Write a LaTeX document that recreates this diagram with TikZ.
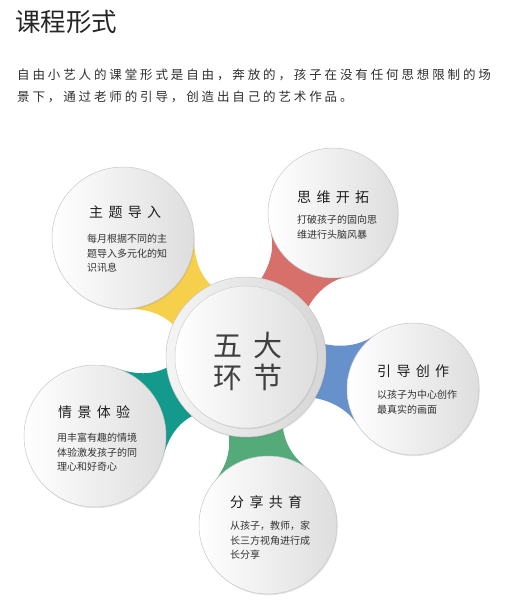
\documentclass[tikz,border=0pt]{standalone}
\usepackage{fontspec}
\setmainfont{Noto Sans CJK SC}
\usetikzlibrary{calc,shadows,backgrounds}
\definecolor{nkyellow}{HTML}{F6D04A}
\definecolor{nkred}{HTML}{D7706A}
\definecolor{nkblue}{HTML}{6791CA}
\definecolor{nkteal}{HTML}{14998D}
\definecolor{nkgreen}{HTML}{55AA7A}
\begin{document}
\begin{tikzpicture}[x=1pt, y=-1pt,
  bubble/.style = {circle, inner sep=0pt, draw=black!22, line width=.5pt, left color=white, right color=black!13, drop shadow={shadow xshift=.8pt, shadow yshift=-1.2pt, opacity=.2}},
  headtext/.style = {anchor=west, inner sep=0pt, text=black!88, font={\fontsize{14}{14}\selectfont\addfontfeature{LetterSpace=38}}},
  bodytext/.style = {anchor=north west, inner sep=0pt, align=left, text=black!80, font={\fontsize{10}{14.5}\selectfont}}]
\useasboundingbox (0,0) rectangle (510,608);
\node[anchor=west, inner sep=0pt, text=black!85, font={\fontsize{25.5}{25.5}\selectfont}] (title) at (15,22) {课程形式};
\node[anchor=north west, inner sep=0pt, align=left, text=black!82, font={\fontsize{12.5}{22}\selectfont\addfontfeature{LetterSpace=23}}] (intro) at (17,69) {自由小艺人的课堂形式是自由，奔放的，孩子在没有任何思想限制的场\\景下，通过老师的引导，创造出自己的艺术作品。};
\node[bubble, minimum size=160pt, left color=black!4, right color=black!16] (c) at (246,357) {};
\node[bubble, minimum size=142pt, draw=black!18] (ci) at (c) {};
\node[bubble, minimum size=142pt] (tl) at (123,238) {};
\node[bubble, minimum size=130pt] (tr) at (333,213) {};
\node[bubble, minimum size=132pt] (rt) at (413,389) {};
\node[bubble, minimum size=142pt] (lb) at (95,436) {};
\node[bubble, minimum size=138pt] (bt) at (268,525) {};
\begin{scope}[on background layer]
\foreach \s/\ang/\rad/\col in {tl/44/71/nkyellow, tr/121.1/65/nkred, rt/190.8/66/nkblue, lb/-27.6/71/nkteal, bt/262.5/69/nkgreen}
  \fill[\col] ($(\s)+(\ang+44:\rad)$)
    .. controls ($(\s)+(\ang+44:\rad)+(\ang-46:20)$) and ($(c)+(\ang+160:80)+(\ang:-16)$) .. ($(c)+(\ang+160:80)$)
    -- ($(c)+(\ang+200:80)$)
    .. controls ($(c)+(\ang+200:80)+(\ang:-16)$) and ($(\s)+(\ang-44:\rad)+(\ang+46:20)$) .. ($(\s)+(\ang-44:\rad)$) -- cycle;
\end{scope}
\node[inner sep=0pt, align=center, text=black!75, font={\fontsize{29}{32}\selectfont\addfontfeature{LetterSpace=35}}] (ctext) at (248,361) {五大\\环节};
\node[headtext] (tlhead) at (89,212) {主题导入};
\node[bodytext] (tlbody) at (87,234) {每月根据不同的主\\题导入多元化的知\\识讯息};
\node[headtext] (trhead) at (297,197) {思维开拓};
\node[bodytext] (trbody) at (297,215) {打破孩子的固向思\\维进行头脑风暴};
\node[headtext] (rthead) at (377,371) {引导创作};
\node[bodytext] (rtbody) at (377,390) {以孩子为中心创作\\最真实的画面};
\node[headtext] (lbhead) at (58,412) {情景体验};
\node[bodytext] (lbbody) at (57,433) {用丰富有趣的情境\\体验激发孩子的同\\理心和好奇心};
\node[headtext] (bthead) at (230,502) {分享共育};
\node[bodytext] (btbody) at (230,521) {从孩子，教师，家\\长三方视角进行成\\长分享};
\end{tikzpicture}
\end{document}
